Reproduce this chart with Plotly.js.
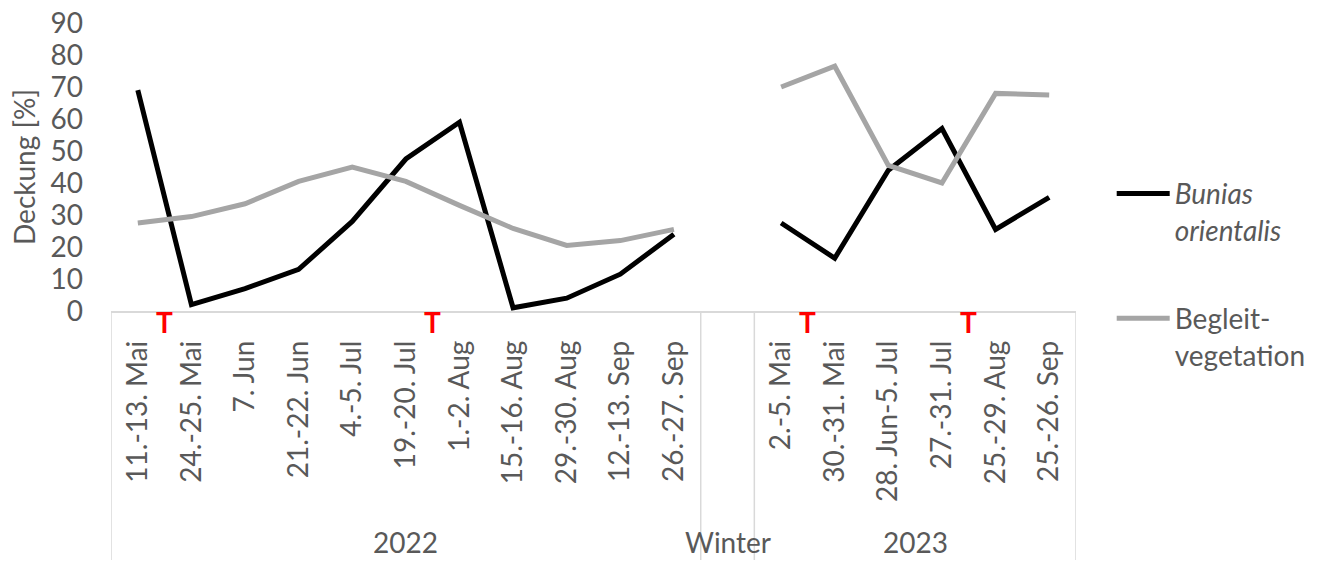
<!DOCTYPE html>
<html>
<head>
<meta charset="utf-8">
<script src="https://cdn.plot.ly/plotly-3.0.1.min.js"></script>
<style>html,body{margin:0;padding:0;background:#fff;}#chart{width:1323px;height:563px;}</style>
</head>
<body>
<div id="chart"></div>
<script>
// ---- data ----
const categories = ['11.-13. Mai','24.-25. Mai','7. Jun','21.-22. Jun','4.-5. Jul','19.-20. Jul','1.-2. Aug','15.-16. Aug','29.-30. Aug','12.-13. Sep','26.-27. Sep','Winter','2.-5. Mai','30.-31. Mai','28. Jun-5. Jul','27.-31. Jul','25.-29. Aug','25.-26. Sep'];
const tickLabels = ['11.-13. Mai','24.-25. Mai','7. Jun','21.-22. Jun','4.-5. Jul','19.-20. Jul','1.-2. Aug','15.-16. Aug','29.-30. Aug','12.-13. Sep','26.-27. Sep','','2.-5. Mai','30.-31. Mai','28. Jun-5. Jul','27.-31. Jul','25.-29. Aug','25.-26. Sep'];
const bunias = [69,2,7,13,28,47.5,59,1,4,11.5,24,null,27.5,16.5,44,57,25.5,35.5];
const begleit = [27.5,29.5,33.5,40.5,45,40.5,33,25.8,20.5,22,25.5,null,70,76.5,45.5,40,68,67.5];
const groupNames = ['2022','Winter','2023'];
const groupSizes = [11,1,6];
const tPositions = [0.5,5.5,12.5,15.5];
const tLabel = 'T';
const seriesNames = ['<i>Bunias</i><br><i>orientalis</i>','Begleit-<br>vegetation'];

const FONT = 'Lato, "Open Sans", sans-serif';
const TXT = '#595959';
const AXC = '#d9d9d9';

const traces = [
  {x: categories, y: bunias, type:'scatter', mode:'lines', name: seriesNames[0], legendgroup:'a',
   line:{color:'#000000', width:5}, connectgaps:false, hoverinfo:'skip'},
  {x: categories, y: begleit, type:'scatter', mode:'lines', name: seriesNames[1], legendgroup:'b',
   line:{color:'#A5A5A5', width:5}, connectgaps:false, hoverinfo:'skip'}
];

const shapes = [];
const annotations = [];
// group dividers and group labels
let start = 0;
const bottomY = -(560-311)/288;
shapes.push({type:'line', xref:'x', yref:'paper', x0:-0.5, x1:-0.5, y0:0, y1:bottomY, line:{color:AXC, width:1.5}});
groupNames.forEach((g,i)=>{
  const end = start + groupSizes[i];
  shapes.push({type:'line', xref:'x', yref:'paper', x0:end-0.5, x1:end-0.5, y0:0, y1:bottomY, line:{color:AXC, width:1.5}});
  annotations.push({xref:'x', yref:'paper', x:(start+end-1)/2, y:-(542-311)/288, text:g, showarrow:false,
    font:{family:FONT, size:28, color:TXT}, xanchor:'center', yanchor:'middle'});
  start = end;
});
tPositions.forEach(p=>{
  annotations.push({xref:'x', yref:'y', x:p, y:0, text:'<b>'+tLabel+'</b>', showarrow:false,
    font:{family:FONT, size:28, color:'#FF0000'}, xanchor:'center', yanchor:'top', yshift:8});
});

const layout = {
  width:1323, height:563,
  margin:{l:111, r:247, t:23, b:252},
  paper_bgcolor:'#ffffff', plot_bgcolor:'#ffffff',
  font:{family:FONT, size:28, color:TXT},
  showlegend:true,
  legend:{x:1.037, xanchor:'left', y:0.494, yanchor:'top', traceorder:'grouped', tracegroupgap:49,
    valign:'top', font:{family:FONT, size:28, color:TXT}, itemwidth:53, bgcolor:'rgba(0,0,0,0)'},
  xaxis:{type:'category', categoryorder:'array', categoryarray:categories, tickmode:'array',
    tickvals:categories, ticktext:tickLabels, tickangle:-90, range:[-0.5,17.5],
    showline:true, linecolor:AXC, linewidth:1.5, showgrid:false, zeroline:false, ticks:'',
    ticklabelstandoff:17, tickfont:{family:FONT, size:28, color:TXT}, fixedrange:true},
  yaxis:{range:[0,90], dtick:10, tick0:0, showgrid:false, zeroline:false, showline:false, ticks:'',
    ticklabelstandoff:27, tickfont:{family:FONT, size:28, color:TXT},
    title:{text:'Deckung [%]', font:{family:FONT, size:28, color:TXT}, standoff:6}, fixedrange:true},
  shapes:shapes, annotations:annotations
};

Plotly.newPlot('chart', traces, layout, {displayModeBar:false, staticPlot:true});
</script>
</body>
</html>
